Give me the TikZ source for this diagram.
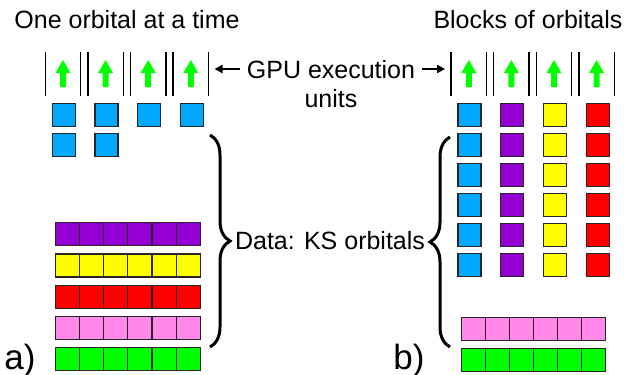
\documentclass[tikz,border=0pt]{standalone}
\usepackage{fontspec}
\setmainfont{Liberation Sans}
\usetikzlibrary{arrows.meta, positioning, decorations.pathreplacing}
\definecolor{kblue}{RGB}{0,170,255}
\definecolor{kpurple}{RGB}{148,0,211}
\definecolor{kyellow}{RGB}{255,255,0}
\definecolor{kred}{RGB}{255,0,0}
\definecolor{kpink}{RGB}{255,136,232}
\definecolor{kgreen}{RGB}{0,255,0}

\begin{document}
\begin{tikzpicture}[x=1pt, y=-1pt, unit/.style={minimum width=35pt,
      minimum height=44pt, inner sep=0pt}, unitline/.style={line width=1.3pt},
      gpuarrow/.style={fill=kgreen}, orb/.style={draw=black!85,
      line width=1.2pt, minimum size=23pt, inner sep=0pt},
      cell/.style={draw=black!85, line width=1.2pt, minimum width=24.17pt,
      minimum height=23pt, inner sep=0pt}, brace/.style={decorate,
      decoration={brace, amplitude=20pt}, line width=3pt},
      pointer/.style={-{Triangle[length=8pt, width=8pt]}, line width=2.5pt,
      shorten >=6pt}, txt/.style={font=\fontsize{25pt}{29pt}\selectfont,
      inner sep=0pt}, panel/.style={font=\fontsize{35pt}{40pt}\selectfont,
      inner sep=0pt} ]

    \useasboundingbox (0,0) rectangle (627,375);

    % Titles
    \node[txt, anchor=base] (titlea) at (127,28) {One orbital at a time};
    \node[txt, anchor=base] (titleb) at (528,28) {Blocks of orbitals};

    % GPU execution units with their arrows
    \foreach \u/\x in {ua/63,ub/468.8} {
      \foreach \i in {1,...,4} {
        \node[unit] (\u\i) at ({\x+42.6*(\i-1)},74) {};
        \draw[unitline] (\u\i.north west) -- (\u\i.south west)
          (\u\i.north east) -- (\u\i.south east);
        \fill[gpuarrow, shift={(\u\i)}] (0,-14) -- (7.5,-1) -- (3,-1) --
          (3,13) -- (-3,13) -- (-3,-1) -- (-7.5,-1) -- cycle;
      }
    }

    % Label of the units
    \node[txt, align=center] (gpu) at (331,84) {GPU execution\\units};
    \coordinate (gl) at (240,69); \coordinate (gr) at (422,69);
    \draw[pointer] (gl) -- (ua4.east |- gl);
    \draw[pointer] (gr) -- (ub1.west |- gr);

    % a) orbitals one at a time
    \foreach \i in {1,...,4}
      \node[orb, fill=kblue] (sa\i) at ({63.7+42.8*(\i-1)},115) {};
    \foreach \i in {1,2}
      \node[orb, fill=kblue] (sb\i) at ({63.7+42.8*(\i-1)},145) {};
    \foreach \r/\col in {1/kpurple,2/kyellow,3/kred,4/kpink,5/kgreen}
      \foreach \k in {1,...,6}
        \node[cell, fill=\col] (ca\r\k) at ({55.3+24.17*(\k-0.5)},{234.2+31.2*(\r-1)}) {};

    % b) blocks of orbitals
    \foreach \c/\col in {1/kblue,2/kpurple,3/kyellow,4/kred}
      \foreach \r in {1,...,6}
        \node[orb, fill=\col] (g\c\r) at ({469.5+42.8*(\c-1)},{115+30*(\r-1)}) {};
    \foreach \r/\col in {1/kpink,2/kgreen}
      \foreach \k in {1,...,6}
        \node[cell, fill=\col] (cb\r\k) at ({461.3+24.07*(\k-0.5)},{328.8+31.2*(\r-1)}) {};

    % Braces and data label
    \coordinate (bat) at (210,135); \coordinate (bab) at (210,347);
    \coordinate (bbt) at (450,137); \coordinate (bbb) at (450,347);
    \draw[brace] (bat) -- (bab);
    \draw[brace] (bbb) -- (bbt);
    \node[txt] (data) at (330,241) {Data: KS orbitals};

    % Panel labels
    \node[panel, anchor=base] (laba) at (20,369) {a)};
    \node[panel, anchor=base] (labb) at (409,369) {b)};

\end{tikzpicture}
\end{document}
